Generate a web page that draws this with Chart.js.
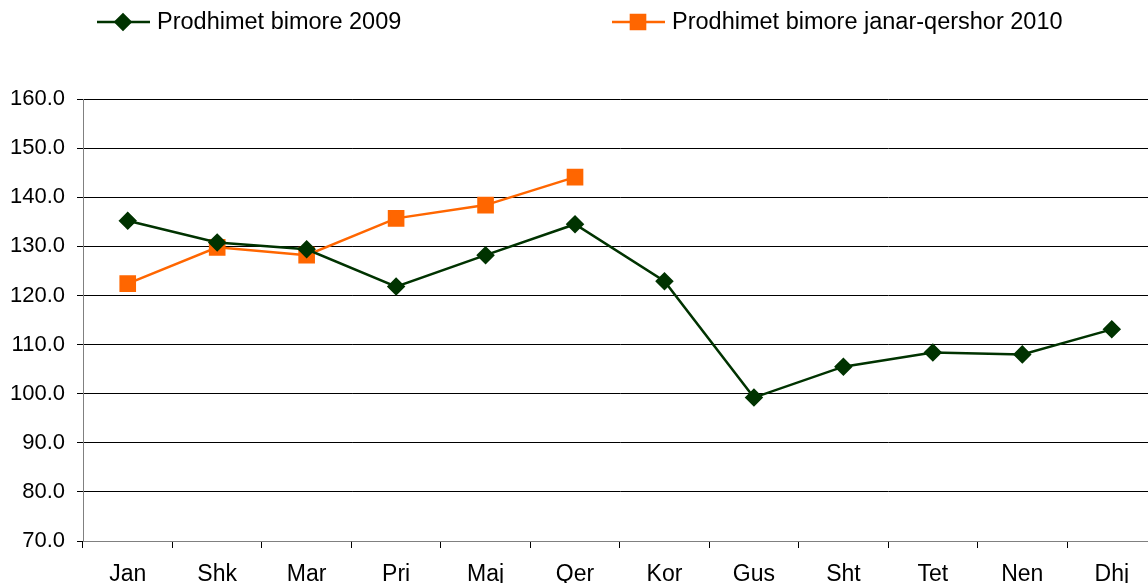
<!DOCTYPE html>
<html>
<head>
<meta charset="utf-8">
<script src="https://cdn.jsdelivr.net/npm/chart.js@4/dist/chart.umd.min.js"></script>
<style>
  html, body { margin: 0; background: #fff; overflow: hidden; }
  #wrap { width: 1148px; height: 583px; overflow: hidden; }
</style>
</head>
<body>
<div id="wrap">
<!-- canvas wider than the window: the last category runs past the right edge in the original -->
<canvas id="chart" width="1169" height="583"></canvas>
</div>
<script>
var months = ["Jan", "Shk", "Mar", "Pri", "Maj", "Qer", "Kor", "Gus", "Sht", "Tet", "Nen", "Dhj"];
var prod2009 = [135.2, 130.8, 129.4, 121.8, 128.2, 134.5, 122.9, 99.2, 105.5, 108.4, 108.0, 113.1];
var prod2010 = [122.4, 129.8, 128.2, 135.7, 138.4, 144.1];
var label2009 = "Prodhimet bimore 2009";
var label2010 = "Prodhimet bimore janar-qershor 2010";

var FONT = "'Liberation Sans', Arial, sans-serif";

// legend drawn by hand: line with marker in the middle, like the original
var lineLegend = {
    id: 'lineLegend',
    afterDraw: function(chart) {
        var ctx = chart.ctx;
        var items = [{ x: 97, ds: chart.data.datasets[0] }, { x: 612, ds: chart.data.datasets[1] }];
        ctx.save();
        items.forEach(function(it) {
            var y = 22;
            ctx.strokeStyle = it.ds.borderColor;
            ctx.lineWidth = 2.5;
            ctx.beginPath();
            ctx.moveTo(it.x, y);
            ctx.lineTo(it.x + 53, y);
            ctx.stroke();
            Chart.helpers.drawPoint(ctx, {
                pointStyle: it.ds.pointStyle,
                radius: it.ds.pointRadius,
                borderWidth: 1
            }, it.x + 26, y);
            ctx.fillStyle = it.ds.pointBackgroundColor;
            ctx.fill();
            ctx.fillStyle = '#000';
            ctx.font = '23.5px ' + FONT;
            ctx.textBaseline = 'middle';
            ctx.fillText(it.ds.label, it.x + 60, y + 1);
        });
        ctx.restore();
    }
};

var ctx = document.getElementById("chart").getContext("2d");

var myLineChart = new Chart(ctx, {
    type: 'line',
    data: {
        labels: months,
        datasets: [{
            label: label2009,
            data: prod2009,
            borderColor: '#003300',
            backgroundColor: '#003300',
            pointBackgroundColor: '#003300',
            pointBorderColor: '#003300',
            pointStyle: 'rectRot',
            pointRadius: 7.5,
            borderWidth: 2.5,
            tension: 0
        }, {
            label: label2010,
            data: prod2010,
            borderColor: '#FF6600',
            backgroundColor: '#FF6600',
            pointBackgroundColor: '#FF6600',
            pointBorderColor: '#FF6600',
            pointStyle: 'rect',
            pointRadius: 10,
            borderWidth: 2.5,
            tension: 0
        }]
    },
    options: {
        responsive: false,
        animation: false,
        layout: { padding: { top: 99, right: 0, left: 0, bottom: 0 } },
        plugins: {
            legend: { display: false },
            tooltip: { enabled: false }
        },
        scales: {
            x: {
                offset: true,
                grid: {
                    offset: true,
                    drawOnChartArea: false,
                    tickLength: 7,
                    color: '#000'
                },
                border: { color: '#808080', width: 1 },
                ticks: {
                    color: '#000',
                    font: { family: FONT, size: 23 },
                    padding: 13,
                    maxRotation: 0
                },
                afterFit: function(scale) { scale.height = 42; }
            },
            y: {
                min: 70,
                max: 160,
                ticks: {
                    stepSize: 10,
                    color: '#000',
                    font: { family: FONT, size: 22 },
                    padding: 12,
                    callback: function(v) { return v.toFixed(1); }
                },
                grid: {
                    color: '#000',
                    tickLength: 6
                },
                border: { color: '#808080', width: 1 },
                afterFit: function(scale) { scale.width = 83; }
            }
        }
    },
    plugins: [lineLegend]
});
</script>
</body>
</html>
